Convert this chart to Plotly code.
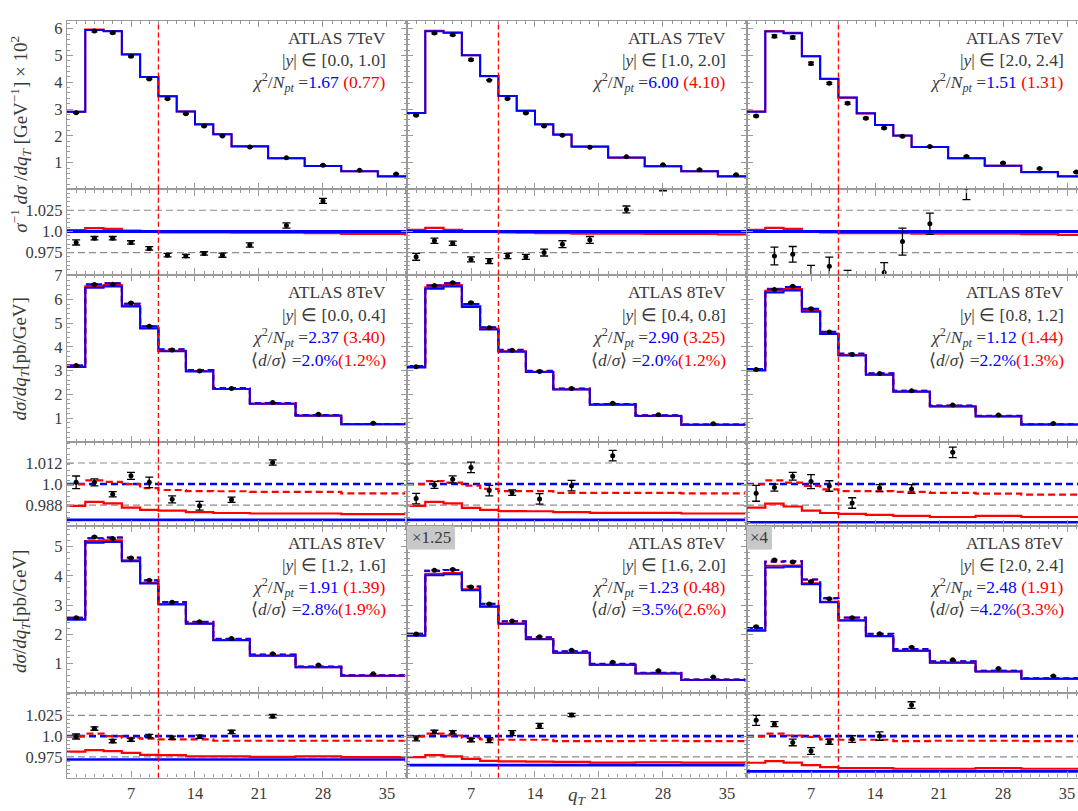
import plotly.graph_objects as go

W, H = 1078, 811

# ---------------- bins ----------------
EDGES_7TEV = [0, 2, 4, 6, 8, 10, 12, 14, 16, 18, 22, 26, 30, 34, 38]
CENTERS_7TEV = [1, 3, 5, 7, 9, 11, 13, 15, 17, 20, 24, 28, 32, 36]
EDGES_8TEV = [0, 2, 4, 6, 8, 10, 13, 16, 20, 25, 30, 37]
CENTERS_8TEV = [1, 3, 5, 7, 9, 11.5, 14.5, 18, 22.5, 27.5, 33.5]

# ---------------- row 1 : ATLAS 7TeV ----------------
R1C1_THEORY = [2.90, 5.95, 5.90, 5.04, 4.20, 3.48, 2.91, 2.43, 2.06, 1.61, 1.17, 0.875, 0.68, 0.49]
R1C1_DATA = [2.86, 5.91, 5.85, 4.97, 4.12, 3.385, 2.825, 2.37, 2.00, 1.585, 1.18, 0.905, 0.715, 0.58]
R1C1_DATA_ERR = [0.02, 0.03, 0.03, 0.03, 0.02, 0.02, 0.02, 0.02, 0.01, 0.01, 0.01, 0.01, 0.01, 0.01]
R1C1_RATIO_DATA = [0.987, 0.992, 0.992, 0.987, 0.980, 0.972, 0.971, 0.974, 0.972, 0.984, 1.007, 1.036, 1.06, 1.18]
R1C1_RATIO_ERR = [0.003, 0.002, 0.002, 0.002, 0.002, 0.002, 0.002, 0.002, 0.0025, 0.0025, 0.003, 0.003, 0.004, 0.005]
R1C1_RATIO_RED = [1.0015, 1.004, 1.003, 1.001, 1.0, 0.999, 0.999, 0.999, 0.999, 0.9985, 0.9985, 0.998, 0.997, 0.997]

R1C2_THEORY = [2.85, 5.90, 5.85, 5.01, 4.23, 3.49, 2.94, 2.43, 2.05, 1.60, 1.19, 0.87, 0.68, 0.49]
R1C2_DATA = [2.77, 5.84, 5.77, 4.84, 4.08, 3.39, 2.85, 2.37, 2.02, 1.58, 1.22, 0.92, 0.74, 0.55]
R1C2_DATA_ERR = [0.02, 0.03, 0.03, 0.03, 0.02, 0.02, 0.02, 0.02, 0.01, 0.01, 0.01, 0.01, 0.01, 0.01]
R1C2_RATIO_DATA = [0.970, 0.989, 0.986, 0.967, 0.965, 0.971, 0.970, 0.975, 0.985, 0.990, 1.026, 1.053, 1.09, 1.12]
R1C2_RATIO_ERR = [0.004, 0.003, 0.0025, 0.003, 0.003, 0.003, 0.003, 0.004, 0.004, 0.004, 0.004, 0.005, 0.006, 0.008]
R1C2_RATIO_RED = [1.002, 1.0043, 1.002, 1.0, 0.9996, 0.999, 0.9985, 0.998, 0.998, 0.9975, 0.9975, 0.997, 0.997, 0.9965]

R1C3_THEORY = [2.90, 5.89, 5.83, 4.97, 4.13, 3.43, 2.84, 2.41, 2.01, 1.59, 1.17, 0.89, 0.65, 0.49]
R1C3_DATA = [2.74, 5.72, 5.67, 4.70, 3.96, 3.22, 2.66, 2.29, 1.99, 1.60, 1.23, 0.99, 0.78, 0.65]
R1C3_DATA_ERR = [0.03, 0.05, 0.05, 0.05, 0.04, 0.04, 0.03, 0.03, 0.03, 0.02, 0.02, 0.02, 0.02, 0.02]
R1C3_RATIO_DATA = [0.93, 0.971, 0.973, 0.946, 0.959, 0.94, 0.93, 0.9514, 0.988, 1.009, 1.052, 1.11, 1.2, 1.3]
R1C3_RATIO_ERR = [0.012, 0.0104, 0.0092, 0.014, 0.0106, 0.014, 0.012, 0.0117, 0.016, 0.0125, 0.0145, 0.02, 0.03, 0.03]
R1C3_RATIO_RED = [1.002, 1.0043, 1.003, 1.0005, 0.999, 0.998, 0.998, 0.998, 0.998, 0.9975, 0.9975, 0.9975, 0.9968, 0.996]

# ---------------- rows 2,3 : ATLAS 8TeV ----------------
R2C1_THEORY = [3.22, 6.62, 6.68, 5.82, 4.87, 3.90, 3.03, 2.27, 1.64, 1.13, 0.76]
R2C1_DATA = [3.22, 6.63, 6.64, 5.85, 4.87, 3.87, 2.99, 2.25, 1.66, 1.17, 0.79]
R2C1_DATA_ERR = [0.02, 0.02, 0.02, 0.02, 0.02, 0.01, 0.01, 0.01, 0.01, 0.01, 0.01]
R2C1_RATIO_DATA = [1.001, 1.001, 0.9942, 1.0047, 1.001, 0.9913, 0.9876, 0.991, 1.0123, 1.035, 1.04]
R2C1_RATIO_ERR = [0.0036, 0.002, 0.0015, 0.002, 0.003, 0.002, 0.0025, 0.0015, 0.0015, 0.003, 0.003]
R2C1_RATIO_RED_DASH = [1.0, 1.0021, 1.0013, 1.0, 0.9977, 0.9966, 0.996, 0.9959, 0.9955, 0.9955, 0.9947]
R2C1_RATIO_RED = [0.9876, 0.9898, 0.989, 0.9866, 0.9853, 0.9848, 0.984, 0.9835, 0.9832, 0.9832, 0.9828]
R2C1_RATIO_BLUE = [0.9796] * 11

R2C2_THEORY = [3.20, 6.58, 6.68, 5.80, 4.83, 3.88, 3.00, 2.25, 1.60, 1.12, 0.74]
R2C2_DATA = [3.17, 6.58, 6.70, 5.86, 4.81, 3.86, 2.97, 2.25, 1.63, 1.15, 0.77]
R2C2_DATA_ERR = [0.02, 0.02, 0.02, 0.02, 0.02, 0.01, 0.01, 0.01, 0.01, 0.01, 0.01]
R2C2_RATIO_DATA = [0.9917, 0.9995, 1.0027, 1.0095, 0.9963, 0.9951, 0.9915, 0.9991, 1.0162, 1.03, 1.04]
R2C2_RATIO_ERR = [0.003, 0.002, 0.002, 0.003, 0.003, 0.0015, 0.003, 0.003, 0.003, 0.004, 0.004]
R2C2_RATIO_RED_DASH = [1.0, 1.0017, 1.0008, 0.9991, 0.9972, 0.996, 0.996, 0.995, 0.995, 0.995, 0.9947]
R2C2_RATIO_RED = [0.9876, 0.9898, 0.989, 0.9864, 0.9853, 0.9846, 0.9845, 0.984, 0.9836, 0.9836, 0.9832]
R2C2_RATIO_BLUE = [0.9796] * 11

R2C3_THEORY = [3.07, 6.43, 6.52, 5.60, 4.64, 3.72, 2.89, 2.16, 1.53, 1.10, 0.75]
R2C3_DATA = [3.05, 6.42, 6.55, 5.61, 4.63, 3.68, 2.88, 2.15, 1.56, 1.13, 0.78]
R2C3_DATA_ERR = [0.02, 0.02, 0.02, 0.02, 0.02, 0.01, 0.01, 0.01, 0.01, 0.01, 0.01]
R2C3_RATIO_DATA = [0.9947, 0.998, 1.0045, 1.0014, 0.9989, 0.9892, 0.9977, 0.9972, 1.0181, 1.03, 1.04]
R2C3_RATIO_ERR = [0.0045, 0.002, 0.0022, 0.004, 0.003, 0.003, 0.002, 0.0025, 0.003, 0.004, 0.005]
R2C3_RATIO_RED_DASH = [1.0, 1.0021, 1.0008, 0.999, 0.997, 0.996, 0.996, 0.9955, 0.995, 0.9945, 0.994]
R2C3_RATIO_RED = [0.9866, 0.9888, 0.9872, 0.9848, 0.9835, 0.983, 0.9824, 0.9818, 0.9812, 0.9818, 0.9812]
R2C3_RATIO_BLUE = [0.9782] * 11

R3C1_THEORY = [2.57, 5.28, 5.31, 4.63, 3.85, 3.11, 2.43, 1.85, 1.31, 0.90, 0.60]
R3C1_DATA = [2.57, 5.33, 5.28, 4.61, 3.85, 3.10, 2.43, 1.86, 1.34, 0.95, 0.65]
R3C1_DATA_ERR = [0.02, 0.02, 0.02, 0.02, 0.02, 0.01, 0.01, 0.01, 0.01, 0.01, 0.01]
R3C1_RATIO_DATA = [0.9995, 1.009, 0.994, 0.9956, 1.0, 0.998, 0.9992, 1.005, 1.024, 1.06, 1.08]
R3C1_RATIO_ERR = [0.003, 0.002, 0.002, 0.002, 0.002, 0.002, 0.002, 0.002, 0.002, 0.003, 0.003]
R3C1_RATIO_RED_DASH = [1.0, 1.003, 1.0, 0.998, 0.997, 0.996, 0.996, 0.9944, 0.9944, 0.9944, 0.9944]
R3C1_RATIO_RED = [0.9813, 0.983, 0.982, 0.9798, 0.9774, 0.977, 0.9757, 0.9757, 0.975, 0.9757, 0.9746]
R3C1_RATIO_BLUE = [0.9718] * 11

R3C2_THEORY = [2.02, 4.17, 4.20, 3.64, 3.05, 2.45, 1.90, 1.42, 0.995, 0.685, 0.456]
R3C2_DATA = [2.01, 4.19, 4.22, 3.62, 3.04, 2.46, 1.92, 1.46, 1.05, 0.76, 0.54]
R3C2_DATA_ERR = [0.02, 0.02, 0.02, 0.02, 0.02, 0.01, 0.01, 0.01, 0.01, 0.01, 0.01]
R3C2_RATIO_DATA = [0.9972, 1.005, 1.0045, 0.9952, 0.9952, 1.0036, 1.0123, 1.0254, 1.056, 1.1, 1.17]
R3C2_RATIO_ERR = [0.003, 0.002, 0.002, 0.002, 0.003, 0.003, 0.003, 0.002, 0.003, 0.004, 0.005]
R3C2_RATIO_RED_DASH = [1.0, 1.003, 1.0007, 0.998, 0.996, 0.9956, 0.9956, 0.994, 0.994, 0.9944, 0.994]
R3C2_RATIO_RED = [0.9746, 0.977, 0.9756, 0.9726, 0.9702, 0.9695, 0.9693, 0.969, 0.968, 0.9685, 0.968]
R3C2_RATIO_BLUE = [0.965] * 11

R3C3_THEORY = [2.22, 4.48, 4.50, 3.88, 3.24, 2.58, 2.02, 1.50, 1.08, 0.76, 0.50]
R3C3_DATA = [2.26, 4.54, 4.47, 3.81, 3.22, 2.57, 2.02, 1.56, 1.13, 0.83, 0.58]
R3C3_DATA_ERR = [0.02, 0.02, 0.02, 0.02, 0.02, 0.01, 0.01, 0.01, 0.01, 0.01, 0.01]
R3C3_RATIO_DATA = [1.019, 1.0143, 0.9924, 0.982, 0.9932, 0.9964, 1.0, 1.0373, 1.06, 1.09, 1.15]
R3C3_RATIO_ERR = [0.006, 0.003, 0.004, 0.004, 0.003, 0.004, 0.005, 0.004, 0.005, 0.006, 0.008]
R3C3_RATIO_RED_DASH = [1.0, 1.003, 1.0007, 0.999, 0.996, 0.9956, 0.9956, 0.994, 0.9944, 0.9944, 0.994]
R3C3_RATIO_RED = [0.9679, 0.9698, 0.968, 0.965, 0.9626, 0.9615, 0.9615, 0.9607, 0.9607, 0.9615, 0.9607]
R3C3_RATIO_BLUE = [0.9575] * 11

# ---------------- labels ----------------
RAPIDITY_LABELS = [["[0.0, 1.0]", "[1.0, 2.0]", "[2.0, 2.4]"],
                   ["[0.0, 0.4]", "[0.4, 0.8]", "[0.8, 1.2]"],
                   ["[1.2, 1.6]", "[1.6, 2.0]", "[2.0, 2.4]"]]
CHI2_BLUE = [["1.67", "6.00", "1.51"], ["2.37", "2.90", "1.12"], ["1.91", "1.23", "2.48"]]
CHI2_RED = [["0.77", "4.10", "1.31"], ["3.40", "3.25", "1.44"], ["1.39", "0.48", "1.91"]]
DSIG_BLUE = [None, ["2.0%", "2.0%", "2.2%"], ["2.8%", "3.5%", "4.2%"]]
DSIG_RED = [None, ["1.2%", "1.2%", "1.3%"], ["1.9%", "2.6%", "3.3%"]]
EXPERIMENT = ["ATLAS 7TeV", "ATLAS 8TeV", "ATLAS 8TeV"]
SCALE_TAGS = {(2, 1): "×1.25", (2, 2): "×4"}

X_TICKS = [7, 14, 21, 28, 35]
MAIN_Y_TICKS = [[1, 2, 3, 4, 5, 6], [1, 2, 3, 4, 5, 6, 7], [1, 2, 3, 4, 5]]
RATIO_Y_TICKS = [[0.975, 1.0, 1.025], [0.988, 1.0, 1.012], [0.975, 1.0, 1.025]]
RATIO_Y_TEXT = [["0.975", "1.0", "1.025"], ["0.988", "1.0", "1.012"], ["0.975", "1.0", "1.025"]]
MATCHING_QT = 10

# ---------------- geometry (pixels) ----------------
COL_PX = [(67, 407), (407, 747), (747, 1078)]
X_RANGES = [[0, 37.19], [0, 37.19], [0, 36.2]]
ROW_PX = [(13.3, 183.3), (183.3, 269.3), (269.3, 438.3), (438.3, 523.3), (523.3, 691.7), (691.7, 777.3)]
Y_RANGES = [[0, 6.28], [0.949, 1.0495], [0, 7.04], [0.976, 1.024], [0, 5.70], [0.95, 1.052]]

BLUE = "#0000ff"
RED = "#ff0000"
AXC = "#9a9a9a"
TXT = "#3a3a3a"
FONT = "Liberation Serif"

panels7 = [
    (R1C1_THEORY, R1C1_DATA, R1C1_DATA_ERR, R1C1_RATIO_DATA, R1C1_RATIO_ERR, R1C1_RATIO_RED),
    (R1C2_THEORY, R1C2_DATA, R1C2_DATA_ERR, R1C2_RATIO_DATA, R1C2_RATIO_ERR, R1C2_RATIO_RED),
    (R1C3_THEORY, R1C3_DATA, R1C3_DATA_ERR, R1C3_RATIO_DATA, R1C3_RATIO_ERR, R1C3_RATIO_RED),
]
panels8 = [
    [(R2C1_THEORY, R2C1_DATA, R2C1_DATA_ERR, R2C1_RATIO_DATA, R2C1_RATIO_ERR, R2C1_RATIO_RED_DASH, R2C1_RATIO_RED, R2C1_RATIO_BLUE),
     (R2C2_THEORY, R2C2_DATA, R2C2_DATA_ERR, R2C2_RATIO_DATA, R2C2_RATIO_ERR, R2C2_RATIO_RED_DASH, R2C2_RATIO_RED, R2C2_RATIO_BLUE),
     (R2C3_THEORY, R2C3_DATA, R2C3_DATA_ERR, R2C3_RATIO_DATA, R2C3_RATIO_ERR, R2C3_RATIO_RED_DASH, R2C3_RATIO_RED, R2C3_RATIO_BLUE)],
    [(R3C1_THEORY, R3C1_DATA, R3C1_DATA_ERR, R3C1_RATIO_DATA, R3C1_RATIO_ERR, R3C1_RATIO_RED_DASH, R3C1_RATIO_RED, R3C1_RATIO_BLUE),
     (R3C2_THEORY, R3C2_DATA, R3C2_DATA_ERR, R3C2_RATIO_DATA, R3C2_RATIO_ERR, R3C2_RATIO_RED_DASH, R3C2_RATIO_RED, R3C2_RATIO_BLUE),
     (R3C3_THEORY, R3C3_DATA, R3C3_DATA_ERR, R3C3_RATIO_DATA, R3C3_RATIO_ERR, R3C3_RATIO_RED_DASH, R3C3_RATIO_RED, R3C3_RATIO_BLUE)],
]

fig = go.Figure()
layout = {}
shapes = []
annotations = []


def idx(r, c):
    return r * 3 + c + 1


def axname(kind, k):
    return kind if k == 1 else f"{kind}{k}"


def ref(kind, k):
    return kind[0] if k == 1 else f"{kind[0]}{k}"


def step(edges, vals):
    return list(edges), list(vals) + [vals[-1]]


def add_step(k, edges, vals, color, width, dash="solid"):
    xs, ys = step(edges, vals)
    fig.add_trace(go.Scatter(x=xs, y=ys, mode="lines", line=dict(color=color, width=width, dash=dash, shape="hv"),
                             xaxis=ref("x", k), yaxis=ref("y", k), hoverinfo="skip", showlegend=False))


def add_points(k, xs, ys, errs, capw, msize):
    fig.add_trace(go.Scatter(x=xs, y=ys, mode="markers", marker=dict(color="black", size=msize),
                             error_y=dict(type="data", array=errs, visible=True, color="black", thickness=1.3, width=capw),
                             xaxis=ref("x", k), yaxis=ref("y", k), hoverinfo="skip", showlegend=False, cliponaxis=True))


def mult(a, b):
    return [x * y for x, y in zip(a, b)]


# ---- axes ----
for r in range(6):
    for c in range(3):
        k = idx(r, c)
        x0, x1 = COL_PX[c]
        y0, y1 = ROW_PX[r]
        ratio_row = (r % 2 == 1)
        group = r // 2
        layout[axname("xaxis", k)] = dict(
            domain=[x0 / W, min(x1 / W, 1.0)], range=X_RANGES[c], anchor=ref("y", k),
            showline=True, linecolor=AXC, linewidth=1.3, mirror="ticks",
            ticks="inside", ticklen=6, tickwidth=1.2, tickcolor=AXC,
            tickmode="array", tickvals=X_TICKS, showticklabels=(r == 5),
            minor=dict(ticks="inside", ticklen=3, tickcolor=AXC, tickmode="linear", tick0=0, dtick=1),
            showgrid=False, zeroline=False, fixedrange=True,
            tickfont=dict(family=FONT, size=16.5, color=TXT),
        )
        if ratio_row:
            tv, tt = RATIO_Y_TICKS[group], RATIO_Y_TEXT[group]
            mdt = 0.005 if group != 1 else 0.003
            mt0 = 0.0
        else:
            tv, tt = MAIN_Y_TICKS[group], [str(v) for v in MAIN_Y_TICKS[group]]
            mdt, mt0 = 0.2, 0
        layout[axname("yaxis", k)] = dict(
            domain=[1 - y1 / H, 1 - y0 / H], range=Y_RANGES[r], anchor=ref("x", k),
            showline=True, linecolor=AXC, linewidth=1.3, mirror=("ticks" if c < 2 else False),
            ticks="inside", ticklen=6, tickwidth=1.2, tickcolor=AXC,
            tickmode="array", tickvals=tv, ticktext=tt, showticklabels=(c == 0),
            minor=dict(ticks="inside", ticklen=3, tickcolor=AXC, tickmode="linear", tick0=mt0, dtick=mdt),
            showgrid=False, zeroline=False, fixedrange=True,
            tickfont=dict(family=FONT, size=16.5, color=TXT),
        )
        # matching scale line at qT = 10
        shapes.append(dict(type="line", xref=ref("x", k), yref=f"{ref('y', k)} domain",
                           x0=MATCHING_QT, x1=MATCHING_QT, y0=0, y1=1,
                           line=dict(color=RED, width=1.3, dash="5px,3px"), layer="above"))
        if ratio_row:
            for v in RATIO_Y_TICKS[group]:
                shapes.append(dict(type="line", xref=f"{ref('x', k)} domain", yref=ref("y", k),
                                   x0=0, x1=1, y0=v, y1=v,
                                   line=dict(color="#8c8c8c", width=1.2, dash="7px,4px"), layer="below"))

# ---- row 1 traces ----
for c in range(3):
    th, dat, derr, rdat, rerr, rred = panels7[c]
    k = idx(0, c)
    add_step(k, EDGES_7TEV, mult(th, rred), RED, 2.0)
    add_step(k, EDGES_7TEV, th, BLUE, 2.0)
    add_points(k, CENTERS_7TEV, dat, derr, 3, 5)
    k = idx(1, c)
    add_step(k, EDGES_7TEV, rred, RED, 2.2)
    add_step(k, EDGES_7TEV, [1.0] * len(th), BLUE, 3.0)
    add_points(k, CENTERS_7TEV, rdat, rerr, 4, 5)

# ---- rows 2,3 traces ----
for g in range(2):
    for c in range(3):
        th, dat, derr, rdat, rerr, rrd, rr, rb = panels8[g][c]
        k = idx(2 + 2 * g, c)
        add_step(k, EDGES_8TEV, mult(th, rr), RED, 2.0)
        add_step(k, EDGES_8TEV, mult(th, rb), BLUE, 2.0)
        add_step(k, EDGES_8TEV, mult(th, rrd), RED, 2.0, "6px,4px")
        add_step(k, EDGES_8TEV, th, BLUE, 2.0, "6px,4px")
        add_points(k, CENTERS_8TEV, dat, derr, 3, 5)
        k = idx(3 + 2 * g, c)
        add_step(k, EDGES_8TEV, rb, BLUE, 2.6)
        add_step(k, EDGES_8TEV, rr, RED, 2.2)
        add_step(k, EDGES_8TEV, [1.0] * len(th), BLUE, 2.6, "7px,4px")
        add_step(k, EDGES_8TEV, rrd, RED, 2.2, "7px,4px")
        add_points(k, CENTERS_8TEV, rdat, rerr, 4, 5)

# ---- panel texts ----
TEXT_RIGHT = [388, 728, 1066]
TEXT_ROWS_Y = [[30, 53, 75], [287, 310, 333, 356], [540, 563, 585, 607]]
for g in range(3):
    for c in range(3):
        lines = [EXPERIMENT[g],
                 f"|<i>y</i>| ∈ {RAPIDITY_LABELS[g][c]}",
                 f"<i>χ</i><sup>2</sup>/<i>N<sub>pt</sub></i> =<span style='color:{BLUE}'>{CHI2_BLUE[g][c]}</span> "
                 f"<span style='color:{RED}'>({CHI2_RED[g][c]})</span>"]
        if DSIG_BLUE[g] is not None:
            lines.append(f"⟨<i>d</i>/<i>σ</i>⟩ =<span style='color:{BLUE}'>{DSIG_BLUE[g][c]}</span>"
                         f"<span style='color:{RED}'>({DSIG_RED[g][c]})</span>")
        for i, t in enumerate(lines):
            annotations.append(dict(text=t, xref="paper", yref="paper", x=TEXT_RIGHT[c] / W,
                                    y=1 - TEXT_ROWS_Y[g][i] / H, xanchor="right", yanchor="middle",
                                    showarrow=False, font=dict(family=FONT, size=17.5, color=TXT)))

# scale tags
for (g, c), t in SCALE_TAGS.items():
    x0 = COL_PX[c][0]
    wbox = 48 if len(t) > 2 else 25
    y0p, y1p = 523.5, 547
    shapes.append(dict(type="rect", xref="paper", yref="paper", x0=x0 / W, x1=(x0 + wbox) / W,
                       y0=1 - y1p / H, y1=1 - y0p / H, fillcolor="#c8c8c8", line=dict(width=0), layer="above"))
    annotations.append(dict(text=t, xref="paper", yref="paper", x=(x0 + wbox / 2) / W, y=1 - (y0p + y1p) / 2 / H,
                            xanchor="center", yanchor="middle", showarrow=False,
                            font=dict(family=FONT, size=17, color=TXT)))

# axis titles
annotations.append(dict(text="<i>σ</i><sup>−1</sup> <i>dσ</i> /<i>dq<sub>T</sub></i> [GeV<sup>−1</sup>] × 10<sup>2</sup>",
                        xref="paper", yref="paper", x=21 / W, y=1 - 128 / H, textangle=-90,
                        xanchor="center", yanchor="middle", showarrow=False,
                        font=dict(family=FONT, size=19, color=TXT)))
for yc in (355, 610):
    annotations.append(dict(text="<i>dσ</i>/<i>dq<sub>T</sub></i>[pb/GeV]",
                            xref="paper", yref="paper", x=21 / W, y=1 - yc / H, textangle=-90,
                            xanchor="center", yanchor="middle", showarrow=False,
                            font=dict(family=FONT, size=19, color=TXT)))
annotations.append(dict(text="<i>q<sub>T</sub></i>", xref="paper", yref="paper", x=577 / W, y=1 - 796 / H,
                        xanchor="center", yanchor="middle", showarrow=False,
                        font=dict(family=FONT, size=19, color=TXT)))

fig.update_layout(**layout)
fig.update_layout(width=W, height=H, margin=dict(l=0, r=0, t=0, b=0, pad=0),
                  paper_bgcolor="white", plot_bgcolor="white",
                  shapes=shapes, annotations=annotations, showlegend=False)
fig.write_html("out.html", config={"displayModeBar": False})
